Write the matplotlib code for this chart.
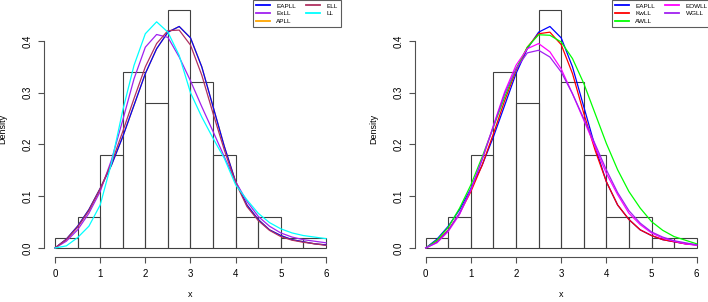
import matplotlib
matplotlib.use("Agg")
import matplotlib.pyplot as plt

plt.rcParams["font.family"] = ["Liberation Sans", "DejaVu Sans"]

# histogram (density, bin width 0.5)
bin_edges = [0.0, 0.5, 1.0, 1.5, 2.0, 2.5, 3.0, 3.5, 4.0, 4.5, 5.0, 5.5, 6.0]
hist_density = [0.02, 0.06, 0.18, 0.34, 0.28, 0.46, 0.32, 0.18, 0.06, 0.06, 0.02, 0.02]

x_grid = [0.0, 0.25, 0.5, 0.75, 1.0, 1.25, 1.5, 1.75, 2.0, 2.25, 2.5, 2.75, 3.0,
          3.25, 3.5, 3.75, 4.0, 4.25, 4.5, 4.75, 5.0, 5.25, 5.5, 5.75, 6.0]

# left panel
eapll = [0.0, 0.017, 0.042, 0.074, 0.115, 0.160, 0.215, 0.276, 0.337, 0.385, 0.417, 0.428, 0.406,
         0.350, 0.273, 0.196, 0.128, 0.083, 0.055, 0.035, 0.024, 0.016, 0.012, 0.008, 0.006]
exll = [0.0, 0.013, 0.035, 0.067, 0.109, 0.170, 0.247, 0.327, 0.388, 0.4125, 0.407, 0.369, 0.323,
        0.273, 0.225, 0.176, 0.128, 0.090, 0.061, 0.042, 0.029, 0.021, 0.016, 0.013, 0.010]
apll = eapll  # drawn underneath EAPLL, not visible in the original
ell = [0.0, 0.016, 0.040, 0.072, 0.114, 0.164, 0.225, 0.289, 0.350, 0.395, 0.420, 0.421, 0.392,
       0.334, 0.260, 0.189, 0.126, 0.080, 0.053, 0.034, 0.022, 0.015, 0.011, 0.008, 0.005]
ll = [0.0, 0.004, 0.020, 0.042, 0.083, 0.164, 0.266, 0.353, 0.414, 0.437, 0.417, 0.372, 0.300,
      0.253, 0.212, 0.173, 0.122, 0.093, 0.067, 0.049, 0.037, 0.029, 0.024, 0.021, 0.018]

# right panel
kwll = [0.0, 0.013, 0.035, 0.067, 0.109, 0.160, 0.221, 0.285, 0.343, 0.388, 0.414, 0.417, 0.393,
        0.337, 0.260, 0.189, 0.128, 0.083, 0.055, 0.035, 0.024, 0.016, 0.012, 0.008, 0.006]
awll = [0.0, 0.015, 0.040, 0.077, 0.122, 0.176, 0.234, 0.292, 0.346, 0.388, 0.412, 0.411, 0.398,
        0.366, 0.318, 0.260, 0.202, 0.151, 0.109, 0.077, 0.051, 0.034, 0.022, 0.015, 0.008]
eowll = [0.0, 0.010, 0.032, 0.065, 0.112, 0.171, 0.237, 0.302, 0.353, 0.385, 0.395, 0.379, 0.346,
         0.298, 0.247, 0.196, 0.144, 0.103, 0.067, 0.045, 0.029, 0.019, 0.013, 0.008, 0.005]
wgll = [0.0, 0.011, 0.034, 0.067, 0.114, 0.171, 0.235, 0.298, 0.346, 0.377, 0.382, 0.369, 0.340,
        0.298, 0.250, 0.201, 0.151, 0.107, 0.072, 0.048, 0.031, 0.021, 0.014, 0.010, 0.006]

left_curves = [("APLL", apll, "orange"), ("EAPLL", eapll, "blue"), ("ExLL", exll, "#A020F0"),
               ("ELL", ell, "#B03060"), ("LL", ll, "cyan")]
left_order = ["EAPLL", "ExLL", "APLL", "ELL", "LL"]
right_curves = [("EAPLL", eapll, "blue"), ("KwLL", kwll, "red"), ("AWLL", awll, "#00FF00"),
                ("EOWLL", eowll, "magenta"), ("WGLL", wgll, "#A020F0")]
right_order = ["EAPLL", "KwLL", "AWLL", "EOWLL", "WGLL"]

fig = plt.figure(figsize=(7.08, 3.02), dpi=100)
fig.patch.set_facecolor("white")

ax_w, ax_h = 0.4133, 0.8513
axes = [fig.add_axes([0.0624, 0.1474, ax_w, ax_h]), fig.add_axes([0.586, 0.1474, ax_w, ax_h])]
legend_right = [341 / 708, 711 / 708]

for ax, curves, order, lx in zip(axes, [left_curves, right_curves], [left_order, right_order], legend_right):
    ax.bar(bin_edges[:-1], hist_density, width=0.5, align="edge", fill=False,
           edgecolor="#404040", linewidth=0.8)
    handles = {}
    for name, vals, col in curves:
        ln, = ax.plot(x_grid, vals, color=col, linewidth=0.9)
        handles[name] = ln
    ax.set_xlim(-0.24, 6.24)
    ax.set_ylim(-0.0184, 0.4784)
    for s in ["top", "right"]:
        ax.spines[s].set_visible(False)
    ax.spines["left"].set_bounds(0, 0.4)
    ax.spines["bottom"].set_bounds(0, 6)
    for s in ["left", "bottom"]:
        ax.spines[s].set_color("#505050")
        ax.spines[s].set_linewidth(0.8)
    ax.set_xticks([0, 1, 2, 3, 4, 5, 6])
    ax.set_yticks([0.0, 0.1, 0.2, 0.3, 0.4])
    ax.set_yticklabels(["0.0", "0.1", "0.2", "0.3", "0.4"], rotation=90, va="center")
    ax.tick_params(length=4.3, width=0.8, color="#505050", labelsize=7, pad=4)
    ax.set_xlabel("x", fontsize=6.5)
    ax.set_ylabel("Density", fontsize=6.5)
    ax.xaxis.set_label_coords(0.5, -0.128)
    ax.yaxis.set_label_coords(-0.125, 0.5)

    leg = fig.legend([handles[n] for n in order], order, ncol=2, loc="upper right",
                     bbox_to_anchor=(lx, 1.0), fontsize=4.6, frameon=True, fancybox=False,
                     handlelength=2.2, handletextpad=1.0, columnspacing=1.6, labelspacing=0.35,
                     borderpad=0.5, borderaxespad=0)
    leg.get_frame().set_edgecolor("#333333")
    leg.get_frame().set_linewidth(0.8)
    for h in leg.legend_handles:
        h.set_linewidth(1.3)

fig.savefig("out.png", dpi=100, facecolor="white")
